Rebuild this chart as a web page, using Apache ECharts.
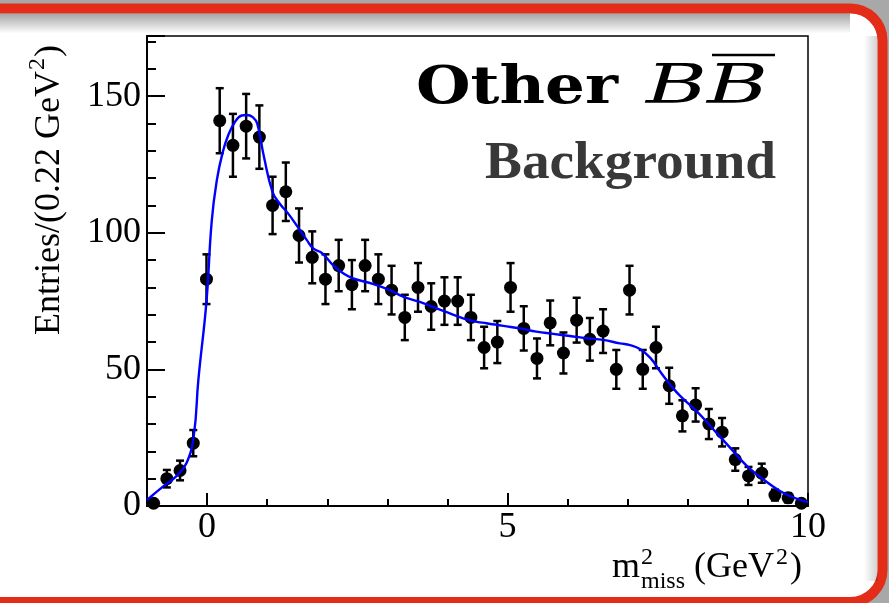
<!DOCTYPE html>
<html>
<head>
<meta charset="utf-8">
<script src="https://cdn.jsdelivr.net/npm/echarts/dist/echarts.min.js"></script>
<style>
  html, body { margin: 0; padding: 0; background: #a8a8a8; }
  #chart { width: 889px; height: 603px; }
</style>
</head>
<body>
<div id="chart"></div>
<script>
// Histogram of missing mass squared: bin centres (GeV^2), entries and their errors
const binCenters = [
  -0.89, -0.67, -0.45, -0.23, -0.01, 0.21, 0.43, 0.65, 0.87, 1.09,
  1.31, 1.53, 1.75, 1.97, 2.19, 2.41, 2.63, 2.85, 3.07, 3.29,
  3.51, 3.73, 3.95, 4.17, 4.39, 4.61, 4.83, 5.05, 5.27, 5.49,
  5.71, 5.93, 6.15, 6.37, 6.59, 6.81, 7.03, 7.25, 7.47, 7.69,
  7.91, 8.13, 8.35, 8.57, 8.79, 9.01, 9.23, 9.45, 9.67, 9.89
];
const entries = [
  1, 10, 13, 23, 83, 141, 132, 139, 135, 110,
  115, 99, 91, 83, 88, 81, 88, 83, 79, 69,
  80, 73, 75, 75, 69, 58, 60, 80, 65, 54,
  67, 56, 68, 61, 64, 50, 79, 50, 58, 44,
  33, 37, 30, 27, 17, 11, 12, 4, 3, 1
];
const entryErrors = [
  1.0, 3.2, 3.6, 4.8, 9.1, 11.9, 11.5, 11.8, 11.6, 10.5,
  10.7, 9.9, 9.5, 9.1, 9.4, 9.0, 9.4, 9.1, 8.9, 8.3,
  8.9, 8.5, 8.7, 8.7, 8.3, 7.6, 7.7, 8.9, 8.1, 7.3,
  8.2, 7.5, 8.2, 7.8, 8.0, 7.1, 8.9, 7.1, 7.6, 6.6,
  5.7, 6.1, 5.5, 5.2, 4.1, 3.3, 3.5, 2.0, 1.7, 1.0
];

// Fitted PDF curve
const curveX = [
  -1.0, -0.73, -0.51, -0.34, -0.22, -0.146, -0.01, 0.076, 0.16,
  0.26, 0.35, 0.46, 0.576, 0.66, 0.76, 0.835, 0.947,
  1.09, 1.21, 1.35, 1.49, 1.66, 1.77, 1.91, 2.10, 2.27,
  2.43, 2.77, 3.04, 3.26, 3.54, 3.82, 4.04, 4.26, 4.49, 4.65,
  4.93, 5.21, 5.48, 5.76, 6.04, 6.32, 6.59, 6.87, 7.04, 7.21,
  7.38, 7.54, 7.71, 7.88, 8.15, 8.43, 8.71, 8.99, 9.26, 9.54,
  9.82, 10.0
];
const curveY = [
  2.2, 7.2, 10.9, 15.8, 26.0, 46.0, 75.0, 104.0, 119.0,
  129.5, 135.6, 140.4, 142.9, 143.1, 142.3, 139.9, 127.7,
  114.9, 110.6, 107.0, 102.7, 97.3, 94.2, 92.6, 88.1, 85.1,
  83.3, 81.2, 79.0, 76.6, 74.7, 72.3, 70.5, 68.7, 67.4, 66.9,
  65.9, 65.0, 63.8, 63.0, 62.2, 61.4, 60.8, 59.5, 58.9, 57.4,
  54.1, 49.2, 44.3, 40.1, 34.6, 27.9, 21.2, 14.5, 9.7, 5.4,
  2.6, 1.4
];

// Labelled tick values
const xTickLabels = [0, 5, 10];
const yTickLabels = [0, 50, 100, 150];

const SERIF = '"Liberation Serif", "Times New Roman", serif';

const measureCtx = document.createElement('canvas').getContext('2d');
function textWidth(text, font) {
  measureCtx.font = font;
  return measureCtx.measureText(text).width;
}

// Places text runs (with super/subscripts) one after another along a baseline
function textRuns(runs, x, y, rotation) {
  const children = [];
  let cx = 0;
  runs.forEach(run => {
    const parts = run.stack || [run];
    let adv = 0;
    parts.forEach(p => {
      const font = p.size + 'px ' + SERIF;
      children.push({
        type: 'text',
        style: {
          text: p.text, x: cx, y: -(p.rise || 0) - 0.34 * p.size,
          font: font, fill: '#000',
          align: 'left', verticalAlign: 'middle',
          textAlign: 'left', textVerticalAlign: 'middle'
        }
      });
      adv = Math.max(adv, textWidth(p.text, font));
    });
    cx += adv + (run.gap || 0);
  });
  return { type: 'group', x: x, y: y, rotation: rotation || 0, z: 100, children: children };
}

// Single text stretched to a given width
function fittedText(text, font, fill, x, baseline, size, width) {
  const w = textWidth(text, font);
  return {
    type: 'text', x: x, y: baseline - 0.34 * size, scaleX: width / w, z: 100,
    style: {
      text: text, x: 0, y: 0, font: font, fill: fill,
      align: 'left', verticalAlign: 'middle',
      textAlign: 'left', textVerticalAlign: 'middle'
    }
  };
}

const points = binCenters.map((x, i) => [x, entries[i]]);
const bars = binCenters.map((x, i) => [x, entries[i], entryErrors[i]]);
const curve = curveX.map((x, i) => [x, curveY[i]]);

const chart = echarts.init(document.getElementById('chart'), null, { renderer: 'canvas' });

chart.setOption({
  backgroundColor: '#a8a8a8',
  animation: false,
  grid: {
    left: 147, right: 81, top: 36, bottom: 97,
    show: true, borderColor: '#000', borderWidth: 1.5, backgroundColor: 'transparent'
  },
  xAxis: {
    type: 'value', min: -1, max: 10, splitNumber: 2,
    axisLine: { show: true, onZero: false, lineStyle: { color: '#000', width: 2 } },
    axisTick: { show: true, inside: true, length: 13, lineStyle: { color: '#000', width: 2 } },
    minorTick: { show: true, splitNumber: 5, length: 7, lineStyle: { color: '#000', width: 2 } },
    splitLine: { show: false },
    minorSplitLine: { show: false },
    axisLabel: {
      margin: 4, color: '#000', fontFamily: SERIF, fontSize: 36,
      formatter: v => (xTickLabels.indexOf(v) >= 0 ? String(v) : '')
    }
  },
  yAxis: {
    type: 'value', min: 0, max: 172, interval: 50,
    axisLine: { show: true, onZero: false, lineStyle: { color: '#000', width: 2 } },
    axisTick: { show: true, inside: true, length: 18, lineStyle: { color: '#000', width: 2 } },
    minorTick: { show: true, splitNumber: 5, length: 9, lineStyle: { color: '#000', width: 2 } },
    splitLine: { show: false },
    axisLabel: {
      margin: 6, color: '#000', fontFamily: SERIF, fontSize: 36,
      formatter: v => (yTickLabels.indexOf(v) >= 0 ? String(v) : '')
    }
  },
  graphic: [
    // slide panel with red rounded border
    {
      type: 'rect', z: -10,
      shape: { x: -40, y: 8.5, width: 922.5, height: 593.5, r: 32 },
      style: { fill: '#fff', stroke: '#e32d19', lineWidth: 10 }
    },
    {
      type: 'rect', z: -9,
      shape: { x: 0, y: 13.5, width: 850, height: 20 },
      style: {
        fill: new echarts.graphic.LinearGradient(0, 0, 0, 1, [
          { offset: 0, color: 'rgba(0,0,0,0.36)' },
          { offset: 1, color: 'rgba(0,0,0,0)' }
        ])
      }
    },
    {
      type: 'rect', z: -9,
      shape: { x: 864, y: 36, width: 13.5, height: 545 },
      style: {
        fill: new echarts.graphic.LinearGradient(0, 0, 1, 0, [
          { offset: 0, color: 'rgba(0,0,0,0)' },
          { offset: 1, color: 'rgba(0,0,0,0.18)' }
        ])
      }
    },
    // labels inside the frame
    fittedText('Other', 'bold 53px "DejaVu Serif", serif', '#000', 416, 107, 53, 202),
    fittedText('BB', 'italic 54px "DejaVu Serif", serif', '#000', 646, 107, 54, 122),
    {
      type: 'line', z: 100,
      shape: { x1: 712, y1: 55, x2: 775, y2: 55 },
      style: { stroke: '#000', lineWidth: 2.5 }
    },
    fittedText('Background', 'bold 52px ' + SERIF, '#383838', 485, 182, 52, 291),
    // axis titles
    textRuns([
      { text: 'Entries/(0.22 GeV', size: 36, gap: 1 },
      { text: '2', size: 24, rise: 16, gap: 1 },
      { text: ')', size: 36 }
    ], 62, 335, Math.PI / 2),
    textRuns([
      { text: 'm', size: 36, gap: 1 },
      { stack: [
          { text: '2', size: 24, rise: 14 },
          { text: 'miss', size: 24, rise: -10 }
        ] },
      { text: ' (GeV', size: 36, gap: 2 },
      { text: '2', size: 24, rise: 14, gap: 2 },
      { text: ')', size: 36 }
    ], 612, 580, 0)
  ],
  series: [
    {
      type: 'custom', name: 'errors', z: 3,
      data: bars,
      renderItem: function (params, api) {
        const x = api.value(0), y = api.value(1), e = api.value(2);
        const top = api.coord([x, y + e]);
        const bot = api.coord([x, Math.max(y - e, 0)]);
        const cw = 4;
        const st = { stroke: '#000', lineWidth: 2.5 };
        return {
          type: 'group',
          children: [
            { type: 'line', shape: { x1: top[0], y1: top[1], x2: bot[0], y2: bot[1] }, style: st },
            { type: 'line', shape: { x1: top[0] - cw, y1: top[1], x2: top[0] + cw, y2: top[1] }, style: st },
            { type: 'line', shape: { x1: bot[0] - cw, y1: bot[1], x2: bot[0] + cw, y2: bot[1] }, style: st }
          ]
        };
      }
    },
    {
      type: 'scatter', name: 'data', z: 4,
      data: points,
      symbol: 'circle', symbolSize: 13,
      itemStyle: { color: '#000', opacity: 1 }
    },
    {
      type: 'line', name: 'fit', z: 5,
      data: curve,
      smooth: 0.45,
      showSymbol: false,
      lineStyle: { color: '#0000ff', width: 2.4 }
    }
  ]
});
</script>
</body>
</html>
